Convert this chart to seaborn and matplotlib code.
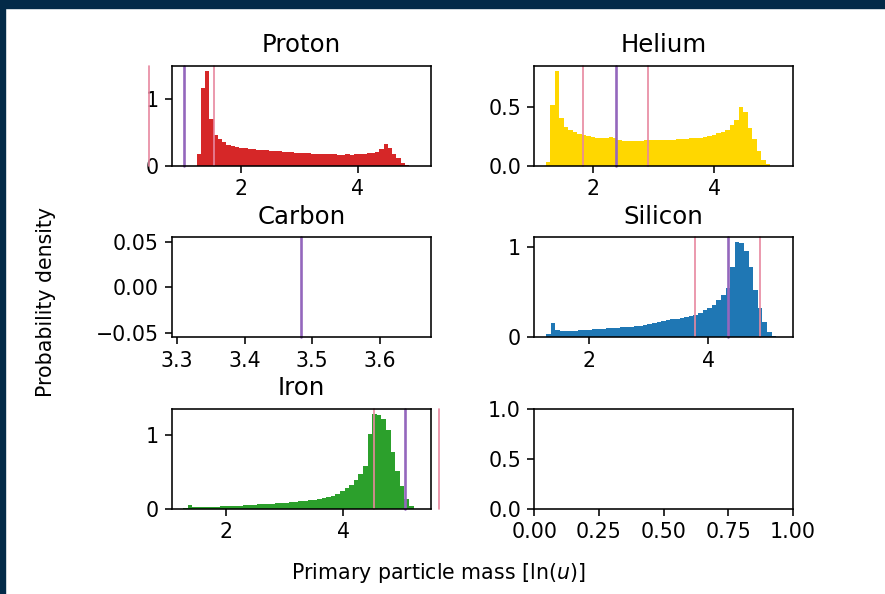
import numpy as np
import matplotlib
matplotlib.use("Agg")
import matplotlib.pyplot as plt
from matplotlib.patches import Rectangle
import pandas as pd
import seaborn as sns

# bin ranges (lo, hi) and densities, 50 bins each
proton_range = (1.243, 4.88)
proton_density = [0.175, 1.17, 1.43, 0.70,
                  0.465, 0.40, 0.355, 0.32, 0.295, 0.285, 0.275, 0.27, 0.26, 0.25,
                  0.245, 0.24, 0.235, 0.23, 0.225, 0.22, 0.215, 0.21, 0.205, 0.20,
                  0.20, 0.195, 0.19, 0.185, 0.18, 0.18, 0.175, 0.175, 0.175, 0.17,
                  0.17, 0.175, 0.17, 0.175, 0.18, 0.185, 0.195, 0.20, 0.215, 0.26,
                  0.33, 0.265, 0.18, 0.115, 0.05, 0.015]

helium_range = (1.21, 4.92)
helium_density = [0.037, 0.52, 0.812, 0.406, 0.33, 0.31, 0.29, 0.27, 0.265, 0.256,
                  0.245, 0.24, 0.24, 0.235, 0.245, 0.235, 0.22, 0.215, 0.213, 0.213,
                  0.215, 0.215, 0.22, 0.218, 0.22, 0.22, 0.218, 0.22, 0.22, 0.227,
                  0.227, 0.23, 0.235, 0.235, 0.24, 0.247, 0.256, 0.265, 0.278, 0.29,
                  0.31, 0.35, 0.39, 0.506, 0.463, 0.32, 0.227, 0.128, 0.05, 0.014]

silicon_range = (1.295, 5.13)
silicon_density = [0.044, 0.156, 0.081, 0.074, 0.07, 0.07, 0.074, 0.078, 0.081, 0.085,
                   0.089, 0.093, 0.096, 0.10, 0.104, 0.107, 0.111, 0.115, 0.119, 0.126,
                   0.133, 0.14, 0.148, 0.156, 0.167, 0.18, 0.193, 0.204, 0.21, 0.22,
                   0.226, 0.237, 0.252, 0.274, 0.304, 0.322, 0.36, 0.415, 0.47, 0.544,
                   0.785, 1.06, 1.044, 0.963, 0.785, 0.526, 0.322, 0.174, 0.063, 0.015]

iron_range = (1.28, 5.20)
iron_density = [0.01, 0.058, 0.03, 0.027, 0.027, 0.03, 0.03, 0.03, 0.036, 0.036,
                0.04, 0.045, 0.045, 0.05, 0.054, 0.058, 0.063, 0.068, 0.066, 0.072,
                0.077, 0.081, 0.086, 0.09, 0.10, 0.104, 0.108, 0.117, 0.126, 0.14,
                0.153, 0.167, 0.18, 0.20, 0.248, 0.284, 0.324, 0.392, 0.473, 0.586,
                1.01, 1.284, 1.275, 1.22, 1.068, 0.775, 0.518, 0.315, 0.135, 0.04]

carbon_density = []

# reference lines: prediction (purple) and +/- spread (pink)
proton_lines = (1.03, [0.43, 1.53])
helium_lines = (2.38, [1.82, 2.90])
carbon_lines = (3.484, [])
silicon_lines = (4.33, [3.78, 4.86])
iron_lines = (5.05, [4.53, 5.63])

panels = [
    ("Proton", proton_range, proton_density, proton_lines, "#d62728", (0.82, 5.25), (0, 1.5), [2, 4], [0, 1]),
    ("Helium", helium_range, helium_density, helium_lines, "gold", (1.02, 5.30), (0, 0.853), [2, 4], [0, 0.5]),
    ("Carbon", None, carbon_density, carbon_lines, "#ff7f0e", (3.293, 3.675), (-0.055, 0.055),
     [3.3, 3.4, 3.5, 3.6], [-0.05, 0.0, 0.05]),
    ("Silicon", silicon_range, silicon_density, silicon_lines, "#1f77b4", (1.095, 5.41), (0, 1.11), [2, 4], [0, 1]),
    ("Iron", iron_range, iron_density, iron_lines, "#2ca02c", (1.09, 5.49), (0, 1.355), [2, 4], [0, 1]),
]

sns.set_style("ticks")
plt.rcParams["font.family"] = ["DejaVu Sans"]
plt.rcParams["text.color"] = "black"
plt.rcParams["axes.labelcolor"] = "black"
plt.rcParams["axes.edgecolor"] = "black"
plt.rcParams["xtick.color"] = "black"
plt.rcParams["ytick.color"] = "black"
plt.rcParams["axes.linewidth"] = 1.15
plt.rcParams["xtick.major.width"] = 1.15
plt.rcParams["ytick.major.width"] = 1.15
plt.rcParams["xtick.major.size"] = 5
plt.rcParams["ytick.major.size"] = 5
plt.rcParams["xtick.major.pad"] = 4.5
plt.rcParams["ytick.major.pad"] = 4.5
plt.rcParams["xtick.labelsize"] = 14.8
plt.rcParams["ytick.labelsize"] = 14.8

fig, axes = plt.subplots(3, 2, figsize=(8.85, 5.94), dpi=100)
fig.subplots_adjust(left=0.1944, right=0.896, bottom=0.1431, top=0.8889, wspace=0.4, hspace=0.715)

for ax, (name, rng, dens, lines, col, xl, yl, xt, yt) in zip(axes.flat, panels):
    if len(dens):
        edges = np.linspace(rng[0], rng[1], len(dens) + 1)
        df = pd.DataFrame({"mass": (edges[:-1] + edges[1:]) / 2, "density": dens})
        sns.histplot(data=df, x="mass", weights="density", bins=list(edges),
                     element="step", fill=True, color=col, alpha=1, linewidth=0, ax=ax)
    mean, spread = lines
    for s in spread:
        ax.axvline(s, color="#e8879f", lw=1.2, clip_on=False)
    ax.axvline(mean, color="#9467bd", lw=1.9, clip_on=False)
    ax.set_xlim(*xl)
    ax.set_ylim(*yl)
    ax.set_xticks(xt)
    ax.set_yticks(yt)
    ax.set(xlabel="", ylabel="")
    ax.set_title(name, fontsize=17.6, pad=10)
    for sp in ax.spines.values():
        sp.set_visible(True)

empty = axes[2, 1]
empty.set_xlim(0, 1)
empty.set_ylim(0, 1)
empty.set_xticks([0, 0.25, 0.5, 0.75, 1.0])
empty.set_yticks([0, 0.5, 1.0])
for sp in empty.spines.values():
    sp.set_visible(True)

fig.text(0.052, 0.4916, "Probability density", rotation=90, ha="center", va="center", fontsize=14.8)
fig.text(0.495, 0.035, r"Primary particle mass [ln($u$)]", ha="center", va="center", fontsize=14.8)

# dark frame strips at the top and left edge
fig.patches.append(Rectangle((0, 1 - 8 / 594), 1, 8 / 594, transform=fig.transFigure,
                             color="#032a48", zorder=10))
fig.patches.append(Rectangle((0, 0), 5 / 885, 1, transform=fig.transFigure,
                             color="#032a48", zorder=10))

fig.savefig("out.png", dpi=100, facecolor="white")
